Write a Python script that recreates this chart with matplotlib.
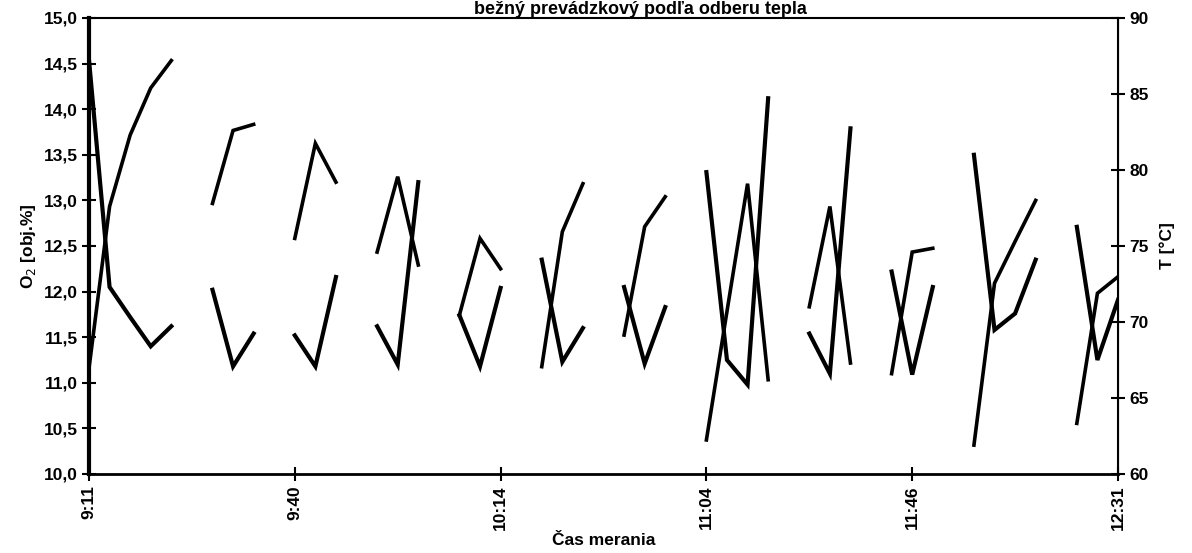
import matplotlib
matplotlib.use("Agg")
import matplotlib.pyplot as plt
import numpy as np
from matplotlib.ticker import FuncFormatter, MultipleLocator

plt.rcParams['font.family'] = ['Liberation Sans', 'DejaVu Sans']

nan = np.nan

# measurement index 0..50, tick label every 10 points
tick_pos = [0, 10, 20, 30, 40, 50]
tick_labels = ['9:11', '9:40', '10:14', '11:04', '11:46', '12:31']

# O2 [obj.%] (left axis), gaps between measurement blocks
o2 = [14.54, 12.05, 11.72, 11.40, 11.62, nan,
      12.02, 11.18, 11.54, nan,
      11.52, 11.18, 12.16, nan,
      11.62, 11.20, 13.20, nan,
      11.74, 11.18, 12.04, nan,
      12.35, 11.23, 11.60, nan,
      12.05, 11.21, 11.83, nan,
      13.31, 11.25, 10.98, 14.12, nan,
      11.54, 11.10, 13.79, nan,
      12.22, 11.09, 12.05, nan,
      13.50, 11.58, 11.76, 12.35, nan,
      12.71, 11.25, 11.91]

# T [°C] (right axis)
temp = [66.95, 77.6, 82.3, 85.4, 87.2, nan,
        77.8, 82.6, 83.0, nan,
        75.5, 81.75, 79.2, nan,
        74.6, 79.56, 73.75, nan,
        70.46, 75.5, 73.5, nan,
        67.06, 75.94, 79.1, nan,
        69.14, 76.27, 78.24, nan,
        62.24, 70.7, 79.1, 66.2, nan,
        71.0, 77.6, 67.3, nan,
        66.6, 74.6, 74.85, nan,
        61.9, 72.55, 75.3, 78.0, nan,
        63.33, 71.89, 72.98]

x = np.arange(len(o2))

fig = plt.figure(figsize=(11.92, 5.53), dpi=100)
ax = fig.add_axes([89 / 1192, 1 - 474 / 553, (1118 - 89) / 1192, (474 - 18) / 553])
ax2 = ax.twinx()

ax.plot(x, o2, color='black', lw=3.0, solid_joinstyle='miter')
ax2.plot(x, temp, color='black', lw=2.6, solid_joinstyle='miter')

ax.set_xlim(0, 50)
ax.set_ylim(10, 15)
ax2.set_ylim(60, 90)

ax.yaxis.set_major_locator(MultipleLocator(0.5))
ax.yaxis.set_major_formatter(FuncFormatter(lambda v, p: ('%.1f' % v).replace('.', ',')))
ax2.yaxis.set_major_locator(MultipleLocator(5))

ax.set_xticks(tick_pos)
ax.set_xticklabels(tick_labels, rotation=90)

for a in (ax, ax2):
    a.tick_params(direction='inout', length=10, width=1.5, labelsize=12.5, pad=3)
    for lab in a.get_xticklabels() + a.get_yticklabels():
        lab.set_fontweight('bold')

ax.spines['left'].set_linewidth(3)
ax.spines['bottom'].set_linewidth(2)
ax.spines['top'].set_linewidth(1.5)
ax2.spines['right'].set_linewidth(1.5)
for s in ('left', 'bottom', 'top'):
    ax2.spines[s].set_visible(False)

ax.set_ylabel('O$_2$ [obj.%]', fontsize=12.5, fontweight='bold', labelpad=4)
ax2.set_ylabel('T [°C]', fontsize=12.5, fontweight='bold', labelpad=8)
ax.set_xlabel('Čas merania', fontsize=12.5, fontweight='bold', labelpad=2)

fig.text(0.537, 1 - 14 / 553, 'bežný prevádzkový podľa odberu tepla',
         ha='center', va='baseline', fontsize=13, fontweight='bold')

fig.savefig('out.png', dpi=100)
